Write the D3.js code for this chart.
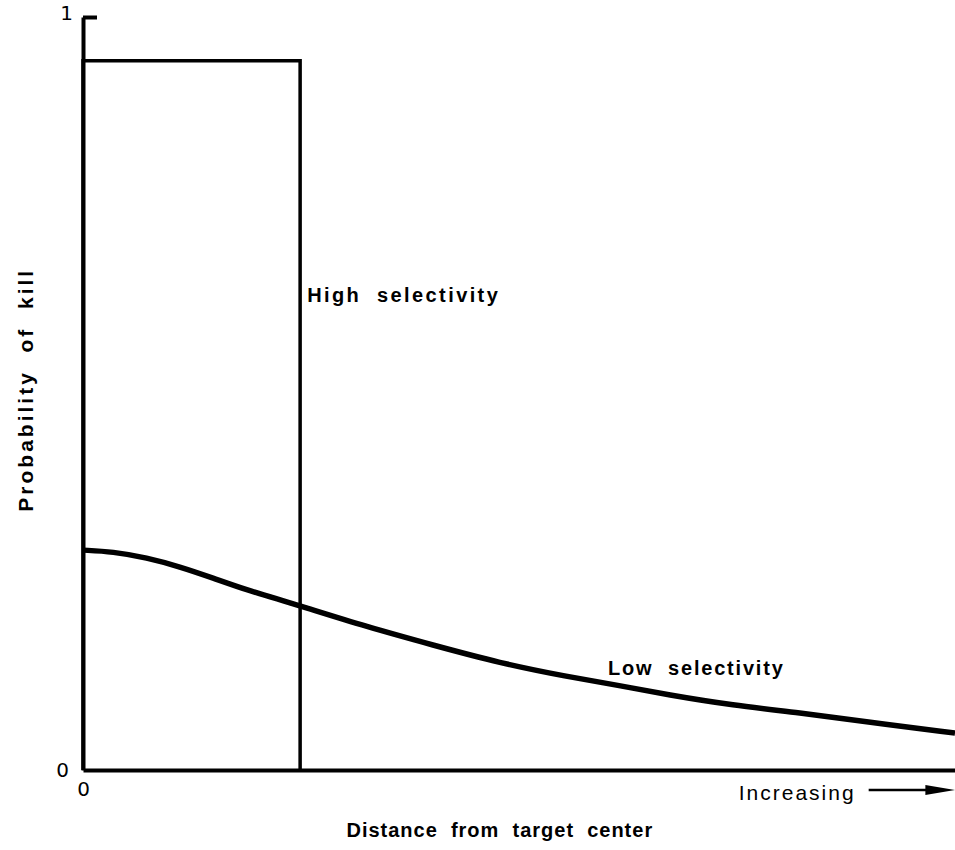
<!DOCTYPE html>
<html>
<head>
<meta charset="utf-8">
<script src="https://cdn.jsdelivr.net/npm/d3@7"></script>
<style>
  html, body { margin: 0; padding: 0; background: #fff; }
  svg { display: block; }
  .lbl { font-family: "Liberation Sans", Arial, sans-serif; font-weight: bold; fill: #000; white-space: pre; }
  .lbl.plain { font-weight: normal; }
  .axis .domain { stroke: #000; stroke-width: 4; }
  .axis .tick line { stroke: #000; stroke-width: 4; }
  .axis .tick text { font-family: "DejaVu Sans", sans-serif; font-size: 20px; fill: #000; }
</style>
</head>
<body>
<svg id="chart" width="955" height="850"></svg>
<script>
/* ---------- data ---------- */
// distance as a fraction of the axis, probability 0..1
const highDist = [0, 0, 0.249, 0.249];
const highProb = [0, 0.942, 0.942, 0];

const lowDist = [0, 0.034, 0.073, 0.111, 0.149, 0.188, 0.226, 0.249, 0.326, 0.401,
                 0.478, 0.555, 0.616, 0.670, 0.745, 0.822, 0.899, 1.0];
const lowProb = [0.292, 0.290, 0.282, 0.270, 0.255, 0.239, 0.226, 0.218, 0.190, 0.166,
                 0.142, 0.124, 0.112, 0.100, 0.086, 0.076, 0.064, 0.049];

const yTicks = [0, 1];
const xTicks = [0];

/* ---------- layout ---------- */
const MARGIN = { top: 17, right: 0, bottom: 80, left: 83 };
const W = 955, H = 850;
const innerW = W - MARGIN.left - MARGIN.right;
const innerH = H - MARGIN.top - MARGIN.bottom;

const svg = d3.select("#chart");
const g = svg.append("g").attr("transform", `translate(${MARGIN.left},${MARGIN.top})`);

const x = d3.scaleLinear().domain([0, 1]).range([0, innerW]);
const y = d3.scaleLinear().domain([0, 1]).range([innerH, 0]);

/* ---------- curves ---------- */
const highLine = d3.line()
    .x((_, i) => x(highDist[i]))
    .y(v => y(v));

g.append("path")
    .datum(highProb)
    .attr("fill", "none")
    .attr("stroke", "#000")
    .attr("stroke-width", 3.5)
    .attr("d", highLine);

const lowLine = d3.line()
    .x((_, i) => x(lowDist[i]))
    .y(v => y(v))
    .curve(d3.curveBasis);

g.append("path")
    .datum(lowProb)
    .attr("fill", "none")
    .attr("stroke", "#000")
    .attr("stroke-width", 5.5)
    .attr("d", lowLine);

/* ---------- axes ---------- */
const yAxis = g.append("g")
    .attr("class", "axis")
    .call(d3.axisLeft(y).tickValues(yTicks).tickSizeInner(-14).tickSizeOuter(0).tickPadding(8)
        .tickFormat(d3.format("d")));
yAxis.selectAll(".tick").filter(d => d === 0).select("line").remove();
yAxis.selectAll(".tick").filter(d => d === 1).select("text").attr("dy", "0.1em").attr("x", -10);
yAxis.selectAll(".tick").filter(d => d === 0).select("text").attr("x", -14);

g.append("g")
    .attr("class", "axis")
    .attr("transform", `translate(0,${innerH})`)
    .call(d3.axisBottom(x).tickValues(xTicks).tickSize(0).tickPadding(12)
        .tickFormat(d3.format("d")));

/* ---------- labels ---------- */
g.append("text")
    .attr("class", "lbl")
    .attr("x", x(0.249) + 7)
    .attr("y", y(0.622))
    .attr("font-size", 20)
    .attr("letter-spacing", 2.4)
    .text("High  selectivity");

g.append("text")
    .attr("class", "lbl")
    .attr("x", x(0.602))
    .attr("y", y(0.126))
    .attr("font-size", 20)
    .attr("letter-spacing", 1.8)
    .text("Low  selectivity");

g.append("text")
    .attr("class", "lbl plain")
    .attr("x", x(0.752))
    .attr("y", innerH + 30)
    .attr("font-size", 21)
    .attr("letter-spacing", 2)
    .text("Increasing");

// arrow
const arrowY = innerH + 20;
g.append("line")
    .attr("x1", x(0.901)).attr("x2", x(0.97))
    .attr("y1", arrowY).attr("y2", arrowY)
    .attr("stroke", "#000").attr("stroke-width", 2.5);
g.append("path")
    .attr("d", `M${x(0.966)},${arrowY - 5} L${x(1)},${arrowY} L${x(0.966)},${arrowY + 5} Z`)
    .attr("fill", "#000");

g.append("text")
    .attr("class", "lbl")
    .attr("x", x(0.478))
    .attr("y", innerH + 67)
    .attr("text-anchor", "middle")
    .attr("font-size", 20)
    .attr("letter-spacing", 1)
    .text("Distance  from  target  center");

g.append("text")
    .attr("class", "lbl")
    .attr("transform", `translate(${-50},${y(0.505)}) rotate(-90)`)
    .attr("text-anchor", "middle")
    .attr("font-size", 21)
    .attr("letter-spacing", 3)
    .text("Probability  of  kill");
</script>
</body>
</html>
